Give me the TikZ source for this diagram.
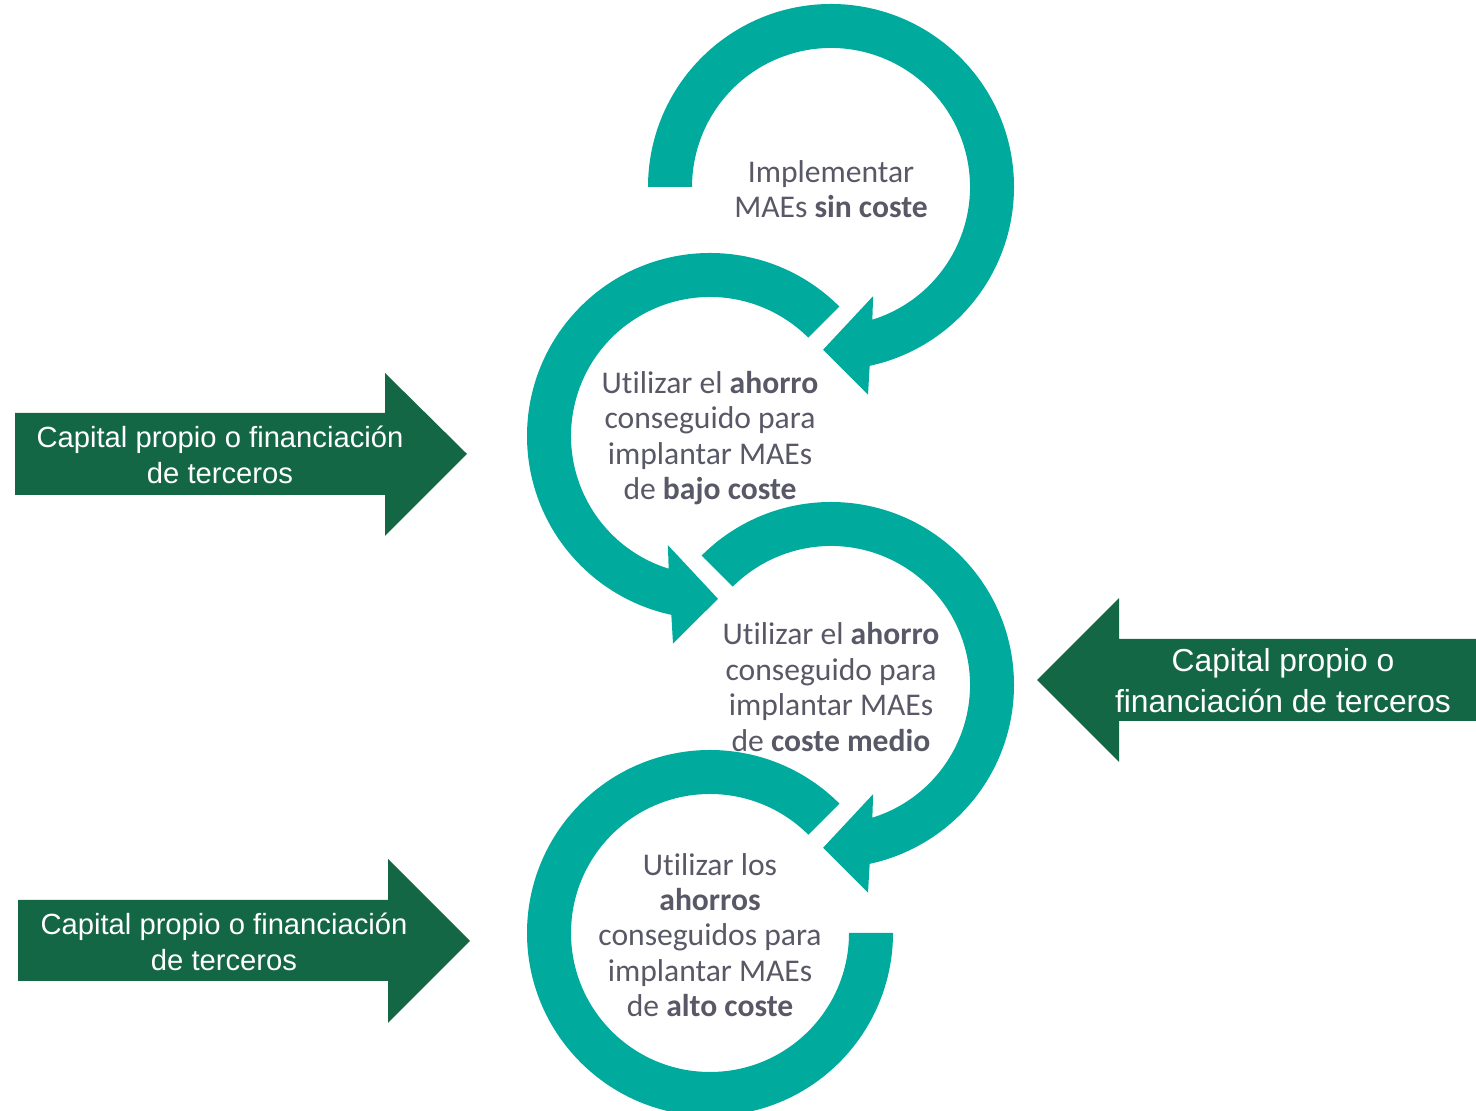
\documentclass[tikz,border=0pt]{standalone}
\usepackage{fontspec}
\setmainfont{Carlito}[Ligatures=NoCommon]
\newfontfamily\arialfont{Liberation Sans}
\usepackage{tikz}
\usetikzlibrary{positioning}
\definecolor{ringteal}{RGB}{0,170,157}
\definecolor{capgreen}{RGB}{20,103,69}
\definecolor{stepgray}{RGB}{88,88,102}
\tikzset{
  ring/.style={fill=ringteal},
  capital/.style={fill=capgreen},
  steptext/.style={align=center, text=stepgray, inner sep=0pt,
    font=\fontsize{15.8}{17.7}\selectfont},
  captext/.style={align=center, text=white, inner sep=0pt,
    font=\arialfont\fontsize{14.6}{18}\selectfont}
}

\begin{document}
\begin{tikzpicture}[x=0.5pt, y=0.5pt]
    \useasboundingbox (0,0) rectangle (1476,1111);
    \coordinate (c1) at (831,924);
    \coordinate (c2) at (710,675);
    \coordinate (c3) at (831,426);
    \coordinate (c4) at (710,178);

    % step 1: clockwise from the left
    \begin{scope}[shift={(c1)}]
      \fill[ring] (180:183) arc[start angle=180, end angle=-77.8, radius=183]
        -- (-79.9:211) -- (-92.8:163) -- (-68.9:117) -- (-72.7:139)
        arc[start angle=-72.7, end angle=180, radius=139] -- cycle;
    \end{scope}
    \node[steptext] (sin) at ([yshift=-1]c1) {Implementar\\MAEs \textbf{sin coste}};

    % step 2: counter-clockwise
    \begin{scope}[shift={(c2)}]
      \fill[ring] (45:183) arc[start angle=45, end angle=257.8, radius=183]
        -- (259.9:211) -- (272.8:163) -- (248.9:117) -- (252.7:139)
        arc[start angle=252.7, end angle=45, radius=139] -- cycle;
    \end{scope}
    \node[steptext] (bajo) at ([yshift=-1]c2) {Utilizar el \textbf{ahorro}\\conseguido para\\implantar MAEs\\de \textbf{bajo coste}};

    % step 3: clockwise
    \begin{scope}[shift={(c3)}]
      \fill[ring] (135:183) arc[start angle=135, end angle=-77.8, radius=183]
        -- (-79.9:211) -- (-92.8:163) -- (-68.9:117) -- (-72.7:139)
        arc[start angle=-72.7, end angle=135, radius=139] -- cycle;
    \end{scope}
    \node[steptext] (medio) at ([yshift=-1]c3) {Utilizar el \textbf{ahorro}\\conseguido para\\implantar MAEs\\de \textbf{coste medio}};

    % step 4: open ring, no head
    \begin{scope}[shift={(c4)}]
      \fill[ring] (45:183) arc[start angle=45, end angle=360, radius=183]
        -- (0:139) arc[start angle=360, end angle=45, radius=139] -- cycle;
    \end{scope}
    \node[steptext] (alto) at ([yshift=-1]c4) {Utilizar los\\\textbf{ahorros}\\conseguidos para\\implantar MAEs\\de \textbf{alto coste}};

    % funding arrows
    \fill[capital] (15,698) -- (385,698) -- (385,738) -- (467,657)
      -- (385,575) -- (385,616) -- (15,616) -- cycle;
    \node[captext] (capA) at (220,656) {Capital propio o financiación\\de terceros};

    \fill[capital] (1476,472) -- (1119,472) -- (1119,513) -- (1037,431)
      -- (1119,349) -- (1119,390) -- (1476,390) -- cycle;
    \node[captext, font=\arialfont\fontsize{15.9}{20.5}\selectfont] (capB) at (1283,430)
      {Capital propio o\\financiación de terceros};

    \fill[capital] (18,211) -- (388,211) -- (388,252) -- (470,170)
      -- (388,88) -- (388,130) -- (18,130) -- cycle;
    \node[captext] (capC) at (224,169) {Capital propio o financiación\\de terceros};
  \end{tikzpicture}
\end{document}
